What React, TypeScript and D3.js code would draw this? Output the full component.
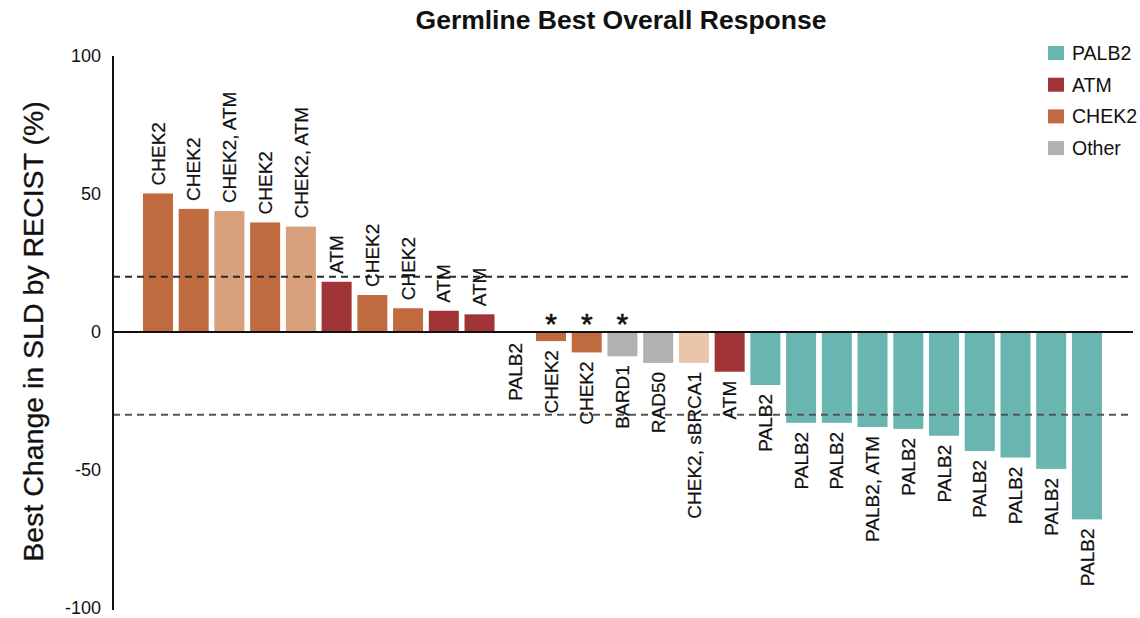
import React from "react";
import * as d3 from "d3";

const labels = [
  "CHEK2", "CHEK2", "CHEK2, ATM", "CHEK2", "CHEK2, ATM", "ATM", "CHEK2", "CHEK2", "ATM", "ATM",
  "PALB2", "CHEK2", "CHEK2", "BARD1", "RAD50", "CHEK2, sBRCA1", "ATM",
  "PALB2", "PALB2", "PALB2", "PALB2, ATM", "PALB2", "PALB2", "PALB2", "PALB2", "PALB2", "PALB2",
];
const values = [
  50.2, 44.6, 43.8, 39.7, 38.2, 18.2, 13.4, 8.6, 7.7, 6.4,
  0, -3.3, -7.4, -8.8, -11.2, -11.2, -14.4,
  -19.2, -32.9, -32.9, -34.4, -35.1, -37.6, -43.1, -45.5, -49.6, -67.9,
];
const groups = [
  "CHEK2", "CHEK2", "CHEK2 combo", "CHEK2", "CHEK2 combo", "ATM", "CHEK2", "CHEK2", "ATM", "ATM",
  "PALB2", "CHEK2", "CHEK2", "Other", "Other", "CHEK2 pale", "ATM",
  "PALB2", "PALB2", "PALB2", "PALB2", "PALB2", "PALB2", "PALB2", "PALB2", "PALB2", "PALB2",
];
const starred = [11, 12, 13];
const yTicks = [100, 50, 0, -50, -100];
const thresholds = [20, -30];
const legendItems = ["PALB2", "ATM", "CHEK2", "Other"];

const colors: Record<string, string> = {
  PALB2: "#69b6b1",
  ATM: "#a13437",
  CHEK2: "#c06a40",
  "CHEK2 combo": "#d8a07b",
  "CHEK2 pale": "#ebc5aa",
  Other: "#b1b1b1",
};

const FONT = "'Liberation Sans', Arial, Helvetica, sans-serif";

export default function App() {
  const W = 1140, H = 618;
  const axisX = 113;
  const y = d3.scaleLinear().domain([-100, 100]).range([608, 56]);
  const x = d3
    .scaleBand<number>()
    .domain(d3.range(values.length))
    .range([140.1, 1104.8])
    .paddingInner(0.16)
    .paddingOuter(0.08);
  const y0 = y(0);

  return (
    <svg
      width={W}
      height={H}
      style={{ position: "absolute", left: 0, top: 0, background: "#fff" }}
      fontFamily={FONT}
    >
      <text x={621} y={29} textAnchor="middle" fontSize={26.5} fontWeight="bold" fill="#111">
        Germline Best Overall Response
      </text>

      {/* y axis label */}
      <text
        transform={`translate(43,331.5) rotate(-90)`}
        textAnchor="middle"
        fontSize={28.5}
        fill="#111"
        stroke="#111"
        strokeWidth={0.3}
      >
        Best Change in SLD by RECIST (%)
      </text>

      {/* y ticks */}
      {yTicks.map((t) => (
        <text key={t} x={101} y={y(t)} dy="0.35em" textAnchor="end" fontSize={18} fill="#111">
          {t}
        </text>
      ))}

      {/* bars */}
      {values.map((v, i) => {
        const top = Math.min(y(v), y0);
        const h = Math.abs(y(v) - y0);
        return (
          <rect
            key={"b" + i}
            x={x(i)!}
            y={top}
            width={x.bandwidth()}
            height={h}
            fill={colors[groups[i]]}
          />
        );
      })}

      {/* threshold lines */}
      {thresholds.map((t, k) => (
        <line
          key={"t" + t}
          x1={axisX}
          x2={1133}
          y1={y(t)}
          y2={y(t)}
          stroke={k === 0 ? "#2a2a2a" : "#555"}
          strokeWidth={2}
          strokeDasharray="7,5"
        />
      ))}

      {/* zero line and y axis */}
      <line x1={axisX} x2={1133} y1={y0} y2={y0} stroke="#111" strokeWidth={2} />
      <line x1={axisX} x2={axisX} y1={y(100)} y2={y(-100) + 2} stroke="#111" strokeWidth={2} />

      {/* bar labels */}
      {values.map((v, i) => {
        const cx = x(i)! + x.bandwidth() / 2;
        const pos = v > 0;
        const ay = pos ? y(v) - 8 : Math.max(y(v), y0) + (v === 0 ? 11 : 9);
        return (
          <text
            key={"l" + i}
            transform={`translate(${cx},${ay}) rotate(-90)`}
            dy="0.35em"
            textAnchor={pos ? "start" : "end"}
            fontSize={19}
            fill="#111"
            stroke="#111"
            strokeWidth={0.2}
          >
            {labels[i]}
          </text>
        );
      })}

      {/* asterisks */}
      {starred.map((i) => (
        <text
          key={"s" + i}
          x={x(i)! + x.bandwidth() / 2}
          y={334}
          textAnchor="middle"
          fontSize={30}
          fill="#111"
          stroke="#111"
          strokeWidth={0.6}
        >
          *
        </text>
      ))}

      {/* legend */}
      {legendItems.map((g, k) => {
        const cy = 53 + k * 31.7;
        return (
          <g key={"lg" + g}>
            <rect x={1048} y={cy - 7} width={16} height={14} fill={colors[g]} />
            <text x={1072} y={cy} dy="0.35em" fontSize={19.5} fill="#111">
              {g}
            </text>
          </g>
        );
      })}
    </svg>
  );
}
